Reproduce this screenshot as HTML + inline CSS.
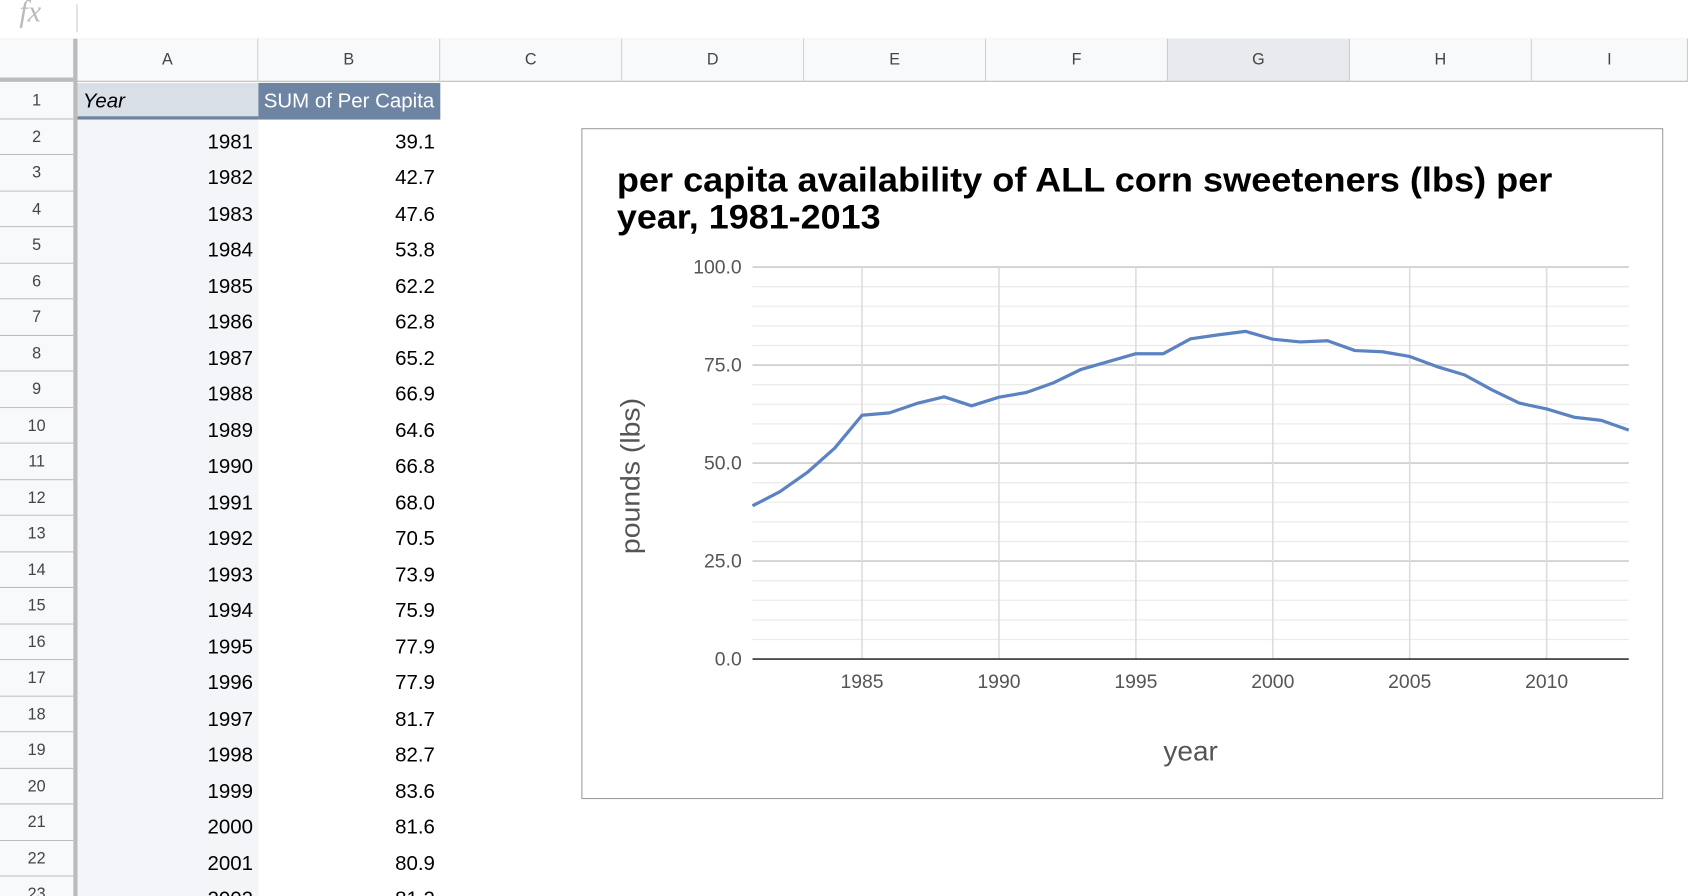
<!DOCTYPE html>
<html><head><meta charset="utf-8">
<style>
html,body{margin:0;padding:0;width:1688px;height:896px;overflow:hidden;background:#fff;font-family:"Liberation Sans",Arial,sans-serif;}
#wrap{position:absolute;left:0;top:0;width:1568px;height:832px;overflow:hidden;transform:scale(1.07653,1.07692);transform-origin:0 0;}
.abs{position:absolute;}
.colh{position:absolute;top:36px;height:40px;line-height:40px;text-align:center;font-size:15px;color:#444;background:#f8f9fa;border-right:1px solid #ccc;border-bottom:1px solid #bbb;box-sizing:border-box;}
.rowh{position:absolute;left:0;width:68px;text-align:center;font-size:15px;color:#444;background:#f8f9fa;border-bottom:1px solid #bbb;box-sizing:border-box;}
.cell{position:absolute;font-size:19px;color:#000;box-sizing:border-box;padding-right:5px;text-align:right;}
</style></head><body>
<div id="wrap">
  <div class="abs" style="left:0;top:0;width:1568px;height:36px;border-bottom:1px solid #ccc;">
    <span class="abs" style="left:18px;top:-4px;font-family:'Liberation Serif',serif;font-style:italic;font-size:28px;color:#bbb;">fx</span>
    <div class="abs" style="left:71px;top:4px;width:1px;height:26px;background:#ccc;"></div>
  </div>
  <div class="abs" style="left:0;top:36px;width:68px;height:40px;background:#f8f9fa;border-bottom:4px solid #bbb;box-sizing:border-box;"></div>
  <div class="abs" style="left:68px;top:36px;width:4px;height:796px;background:#bbb;"></div>
  <div id="grid"></div>
  <div class="abs" style="left:540px;top:119px;width:1005px;height:623px;border:1px solid #9e9e9e;background:#fff;box-sizing:border-box;"></div>
  <svg class="abs" style="left:0;top:0" width="1568" height="832" id="chart">
    <text x="573" y="178" font-size="32" font-weight="bold" fill="#000" textLength="869" lengthAdjust="spacingAndGlyphs" font-family="Liberation Sans, Arial, sans-serif">per capita availability of ALL corn sweeteners (lbs) per</text>
    <text x="573" y="212" font-size="32" font-weight="bold" fill="#000" textLength="245" lengthAdjust="spacingAndGlyphs" font-family="Liberation Sans, Arial, sans-serif">year, 1981-2013</text>
    <g id="grid-lines"></g>
    <g id="axes"></g>
    <text transform="translate(594,442) rotate(-90)" text-anchor="middle" font-size="25" textLength="145" lengthAdjust="spacingAndGlyphs" fill="#555" font-family="Liberation Sans, Arial, sans-serif">pounds (lbs)</text>
    <text x="1106" y="706" text-anchor="middle" font-size="26" fill="#555" font-family="Liberation Sans, Arial, sans-serif">year</text>
  </svg>
</div>
<script>
const years=[1981,1982,1983,1984,1985,1986,1987,1988,1989,1990,1991,1992,1993,1994,1995,1996,1997,1998,1999,2000,2001,2002,2003,2004,2005,2006,2007,2008,2009,2010,2011,2012,2013];
const perCapita=[39.1,42.7,47.6,53.8,62.2,62.8,65.2,66.9,64.6,66.8,68.0,70.5,73.9,75.9,77.9,77.9,81.7,82.7,83.6,81.6,80.9,81.2,78.7,78.4,77.2,74.6,72.5,68.7,65.3,63.8,61.7,60.9,58.4];
const yTicks=[0,25,50,75,100];
const xTicks=[1985,1990,1995,2000,2005,2010];
const colLetters=['A','B','C','D','E','F','G','H','I'];

const NS='http://www.w3.org/2000/svg';
const x0=699,x1=1513,yb=612,yt=248;
const X=v=>x0+(v-1981)/(2013-1981)*(x1-x0);
const Y=v=>yb-(v-0)/100*(yb-yt);

const grid=document.getElementById('grid');
const colX=[72,240,409,578,747,916,1085,1254,1423,1568];
colLetters.forEach((c,i)=>{
  const d=document.createElement('div');
  d.className='colh';
  d.style.left=colX[i]+'px';d.style.width=(colX[i+1]-colX[i])+'px';
  if(c==='G'){d.style.background='#e8eaed';}
  d.textContent=c;
  
  
  grid.appendChild(d);
});
const rowTop=r=>77+(r-1)*33.5;
for(let r=1;r<=23;r++){
  const d=document.createElement('div');
  d.className='rowh';
  d.style.top=rowTop(r)+'px';d.style.height='33.5px';d.style.lineHeight='33px';
  d.textContent=r;
  
  
  grid.appendChild(d);
}
const abg=document.createElement('div');
abg.className='abs';
abg.style.cssText='left:72px;top:111px;width:168px;height:721px;background:#f3f5f8;';


grid.appendChild(abg);
const hA=document.createElement('div');
hA.className='cell';
hA.style.cssText='left:72px;top:77px;width:168px;height:34px;background:#d9dfe7;border-bottom:3px solid #6d84a3;text-align:left;padding-left:5px;font-style:italic;line-height:36px;font-size:19px;';
hA.textContent='Year';


grid.appendChild(hA);
const hB=document.createElement('div');
hB.className='cell';
hB.style.cssText='left:240px;top:77px;width:169px;height:34px;background:#6d84a3;color:#fff;text-align:left;padding-left:5px;line-height:36px;font-size:19px;';
hB.textContent='SUM of Per Capita';


grid.appendChild(hB);
for(let i=0;i<22;i++){
  const r=i+2;
  const a=document.createElement('div');
  a.className='cell';
  a.style.left='72px';a.style.width='168px';a.style.top=(rowTop(r)+5)+'px';a.style.lineHeight='33px';
  a.textContent=years[i];
  
  
  grid.appendChild(a);
  const b=document.createElement('div');
  b.className='cell';
  b.style.left='240px';b.style.width='169px';b.style.top=(rowTop(r)+5)+'px';b.style.lineHeight='33px';
  b.textContent=perCapita[i].toFixed(1);
  
  
  grid.appendChild(b);
}

const gl=document.getElementById('grid-lines');
for(let v=0;v<=100;v+=5){
  if(v===0)continue;
  const l=document.createElementNS(NS,'line');
  l.setAttribute('x1',x0);l.setAttribute('x2',x1);l.setAttribute('y1',Y(v));l.setAttribute('y2',Y(v));
  l.setAttribute('stroke',v%25===0?'#ccc':'#ebebeb');l.setAttribute('stroke-width',v%25===0?1.5:1.2);
  
  
  gl.appendChild(l);
}
xTicks.forEach(t=>{
  const l=document.createElementNS(NS,'line');
  l.setAttribute('x1',X(t));l.setAttribute('x2',X(t));l.setAttribute('y1',yt);l.setAttribute('y2',yb);
  l.setAttribute('stroke','#ddd');l.setAttribute('stroke-width',1.5);
  
  
  gl.appendChild(l);
  const tx=document.createElementNS(NS,'text');
  tx.setAttribute('x',X(t));tx.setAttribute('y',639);tx.setAttribute('text-anchor','middle');
  tx.setAttribute('font-size','18');tx.setAttribute('fill','#555');
  tx.textContent=t;
  
  
  gl.appendChild(tx);
});
yTicks.forEach(t=>{
  const tx=document.createElementNS(NS,'text');
  tx.setAttribute('x',689);tx.setAttribute('y',Y(t)+6);tx.setAttribute('text-anchor','end');
  tx.setAttribute('font-size','18');tx.setAttribute('fill','#555');
  tx.textContent=t.toFixed(1);
  
  
  gl.appendChild(tx);
});
const ax=document.getElementById('axes');
const base=document.createElementNS(NS,'line');
base.setAttribute('x1',x0);base.setAttribute('x2',x1);base.setAttribute('y1',yb);base.setAttribute('y2',yb);
base.setAttribute('stroke','#333');base.setAttribute('stroke-width',1.5);


ax.appendChild(base);
const path=document.createElementNS(NS,'polyline');
path.setAttribute('points',years.map((y,i)=>X(y)+','+Y(perCapita[i])).join(' '));
path.setAttribute('fill','none');path.setAttribute('stroke','#5b82c1');path.setAttribute('stroke-width','3');
path.setAttribute('stroke-linejoin','round');


ax.appendChild(path);
</script>
</body></html>
